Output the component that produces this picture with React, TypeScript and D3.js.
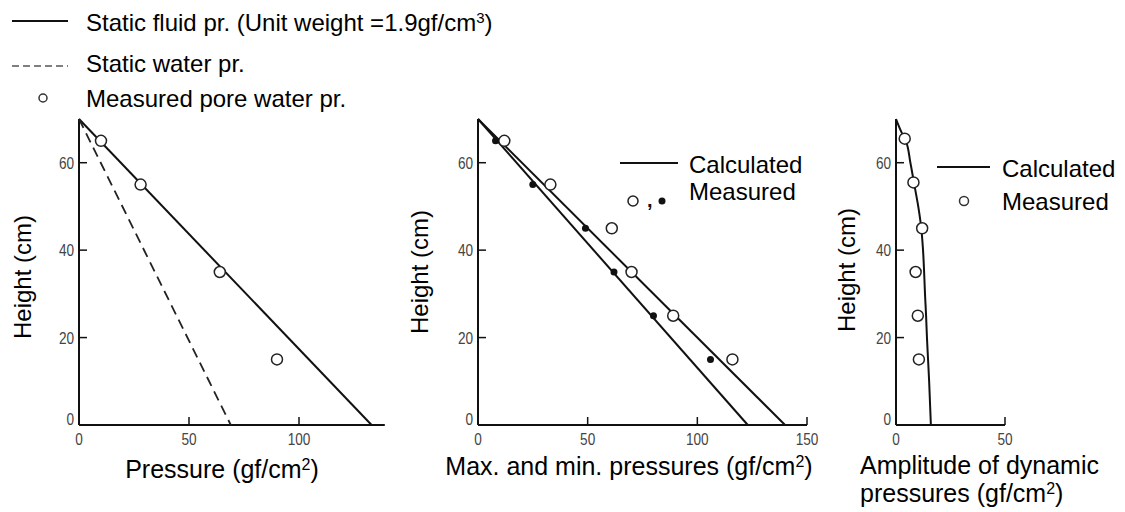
import React from "react";
import * as d3 from "d3";

// ---------- data ----------
const heightTicks = [0, 20, 40, 60];

// Panel 1: pressure distribution
const p1Ticks = [0, 50, 100];
const staticFluid = [ { p: 0, h: 70 }, { p: 133, h: 0 } ];
const staticWater = [ { p: 0, h: 70 }, { p: 69, h: 0 } ];
const p1Measured = [ { p: 10, h: 65 }, { p: 28, h: 55 }, { p: 64, h: 35 }, { p: 90, h: 15 } ];

// Panel 2: max / min pressures
const p2Ticks = [0, 50, 100, 150];
const calcMax = [ { p: 0, h: 70 }, { p: 140, h: 0 } ];
const calcMin = [ { p: 0, h: 70 }, { p: 123, h: 0 } ];
const measMax = [ { p: 12, h: 65 }, { p: 33, h: 55 }, { p: 61, h: 45 }, { p: 70, h: 35 }, { p: 89, h: 25 }, { p: 116, h: 15 } ];
const measMin = [ { p: 8, h: 65 }, { p: 25, h: 55 }, { p: 49, h: 45 }, { p: 62, h: 35 }, { p: 80, h: 25 }, { p: 106, h: 15 } ];

// Panel 3: amplitude of dynamic pressures
const p3Ticks = [0, 50];
const ampCalc = [
  { p: 0, h: 70 }, { p: 2.5, h: 67 }, { p: 4.5, h: 65 }, { p: 6.6, h: 60 }, { p: 8.4, h: 55 },
  { p: 10.2, h: 50 }, { p: 11.6, h: 45 }, { p: 12.4, h: 40 }, { p: 12.9, h: 35 }, { p: 13.3, h: 30 },
  { p: 13.8, h: 25 }, { p: 14.2, h: 20 }, { p: 14.7, h: 15 }, { p: 15.2, h: 10 }, { p: 15.6, h: 5 }, { p: 16, h: 0 },
];
const ampMeasured = [ { p: 4, h: 65.5 }, { p: 8, h: 55.5 }, { p: 12, h: 45 }, { p: 9, h: 35 }, { p: 10, h: 25 }, { p: 10.5, h: 15 } ];

// ---------- layout ----------
const FONT = "'Liberation Sans', Arial, Helvetica, sans-serif";
const INK = "#111";
const TICK_INK = "#444";

const yScale = d3.scaleLinear().domain([0, 70]).range([425, 119]);

type Pt = { p: number; h: number };

function TickLabel({ x, y, text, anchor }: { x: number; y: number; text: string; anchor: string }) {
  return (
    <text
      transform={`translate(${x},${y}) scale(0.8,1)`}
      textAnchor={anchor}
      dominantBaseline="central"
      fontFamily={FONT}
      fontSize={17}
      fill={TICK_INK}
    >
      {text}
    </text>
  );
}

function Axes({ x, ticks, xEnd }: { x: d3.ScaleLinear<number, number>; ticks: number[]; xEnd: number }) {
  const x0 = x(0);
  const y0 = yScale(0);
  return (
    <g>
      <line x1={x0} y1={y0} x2={x0} y2={yScale(70)} stroke={INK} strokeWidth={2} />
      <line x1={x0} y1={y0} x2={x(xEnd)} y2={y0} stroke={INK} strokeWidth={2} />
      {heightTicks.filter((t) => t > 0).map((t) => (
        <line key={"yt" + t} x1={x0} x2={x0 + 8} y1={yScale(t)} y2={yScale(t)} stroke={INK} strokeWidth={1.5} />
      ))}
      {heightTicks.map((t) => (
        <TickLabel key={"yl" + t} x={x0 - 5} y={yScale(t) - (t === 0 ? 6 : 0)} text={String(t)} anchor="end" />
      ))}
      {ticks.filter((t) => t > 0).map((t) => (
        <line key={"xt" + t} x1={x(t)} x2={x(t)} y1={y0} y2={y0 - 8} stroke={INK} strokeWidth={1.5} />
      ))}
      {ticks.map((t) => (
        <TickLabel key={"xl" + t} x={x(t)} y={439} text={String(t)} anchor="middle" />
      ))}
    </g>
  );
}

function HeightTitle({ x, y }: { x: number; y: number }) {
  return (
    <text transform={`translate(${x},${y}) rotate(-90)`} textAnchor="middle" fontFamily={FONT} fontSize={24} fill="#000">
      Height (cm)
    </text>
  );
}

function Title({ x, y, main, anchor = "middle" }: { x: number; y: number; main: string; anchor?: string }) {
  return (
    <text x={x} y={y} textAnchor={anchor} fontFamily={FONT} fontSize={25} fill="#000">
      {main}
      <tspan baselineShift="super" fontSize={16}>2</tspan>
      <tspan>)</tspan>
    </text>
  );
}

export default function App() {
  const x1 = d3.scaleLinear().domain([0, 100]).range([79, 299]);
  const x2 = d3.scaleLinear().domain([0, 150]).range([478, 807]);
  const x3 = d3.scaleLinear().domain([0, 50]).range([896, 1005]);

  const mk = (x: d3.ScaleLinear<number, number>, curve = d3.curveLinear) =>
    d3.line<Pt>().x((d) => x(d.p)).y((d) => yScale(d.h)).curve(curve);

  const line1 = mk(x1);
  const line2 = mk(x2);
  const line3 = mk(x3, d3.curveMonotoneY);

  return (
    <svg width={1125} height={512} style={{ position: "absolute", left: 0, top: 0, background: "#fff" }}>
      <rect x={0} y={0} width={1125} height={512} fill="#fff" />

      {/* Top-left legend */}
      <line x1={12} x2={68} y1={21} y2={21} stroke={INK} strokeWidth={2} />
      <text x={86} y={31} fontFamily={FONT} fontSize={24} fill="#000">
        Static fluid pr. (Unit weight =1.9gf/cm<tspan baselineShift="super" fontSize={15}>3</tspan><tspan>)</tspan>
      </text>
      <line x1={12} x2={68} y1={66} y2={66} stroke="#555" strokeWidth={1.5} strokeDasharray="7,4" />
      <text x={86} y={72} fontFamily={FONT} fontSize={24} fill="#000">Static water pr.</text>
      <circle cx={43} cy={98} r={4} fill="#fff" stroke="#333" strokeWidth={1.5} />
      <text x={86} y={107} fontFamily={FONT} fontSize={24} fill="#000">Measured pore water pr.</text>

      {/* Panel 1 */}
      <Axes x={x1} ticks={p1Ticks} xEnd={139} />
      <path d={line1(staticFluid) || ""} fill="none" stroke={INK} strokeWidth={2} />
      <path d={line1(staticWater) || ""} fill="none" stroke="#222" strokeWidth={1.8} strokeDasharray="10,6" />
      {p1Measured.map((d, i) => (
        <circle key={i} cx={x1(d.p)} cy={yScale(d.h)} r={5.5} fill="#fff" stroke="#222" strokeWidth={1.5} />
      ))}
      <HeightTitle x={31} y={277} />
      <Title x={222} y={478} main="Pressure (gf/cm" />

      {/* Panel 2 */}
      <Axes x={x2} ticks={p2Ticks} xEnd={150} />
      <path d={line2(calcMax) || ""} fill="none" stroke={INK} strokeWidth={2} />
      <path d={line2(calcMin) || ""} fill="none" stroke={INK} strokeWidth={2} />
      {measMax.map((d, i) => (
        <circle key={"o" + i} cx={x2(d.p)} cy={yScale(d.h)} r={5.5} fill="#fff" stroke="#222" strokeWidth={1.5} />
      ))}
      {measMin.map((d, i) => (
        <circle key={"f" + i} cx={x2(d.p)} cy={yScale(d.h)} r={3.5} fill="#111" />
      ))}
      <HeightTitle x={428} y={272} />
      <Title x={629} y={475} main="Max. and min. pressures (gf/cm" />
      <line x1={620} x2={678} y1={163} y2={163} stroke={INK} strokeWidth={2} />
      <text x={689} y={173} fontFamily={FONT} fontSize={24} fill="#000">Calculated</text>
      <text x={689} y={200} fontFamily={FONT} fontSize={24} fill="#000">Measured</text>
      <circle cx={633} cy={201} r={5} fill="#fff" stroke="#222" strokeWidth={1.5} />
      <text x={647} y={207} fontFamily={FONT} fontSize={20} fontWeight="bold" fill="#111">,</text>
      <circle cx={662} cy={201} r={3.5} fill="#111" />

      {/* Panel 3 */}
      <Axes x={x3} ticks={p3Ticks} xEnd={50} />
      <path d={line3(ampCalc) || ""} fill="none" stroke={INK} strokeWidth={2} />
      {ampMeasured.map((d, i) => (
        <circle key={i} cx={x3(d.p)} cy={yScale(d.h)} r={5.5} fill="#fff" stroke="#222" strokeWidth={1.5} />
      ))}
      <HeightTitle x={855} y={270} />
      <line x1={937} x2={990} y1={167} y2={167} stroke={INK} strokeWidth={2} />
      <text x={1002} y={177} fontFamily={FONT} fontSize={24} fill="#000">Calculated</text>
      <circle cx={964} cy={201} r={4.5} fill="#fff" stroke="#333" strokeWidth={1.5} />
      <text x={1002} y={210} fontFamily={FONT} fontSize={24} fill="#000">Measured</text>
      <text x={860} y={474} fontFamily={FONT} fontSize={25} fill="#000">Amplitude of dynamic</text>
      <Title x={860} y={502} main="pressures (gf/cm" anchor="start" />
    </svg>
  );
}
